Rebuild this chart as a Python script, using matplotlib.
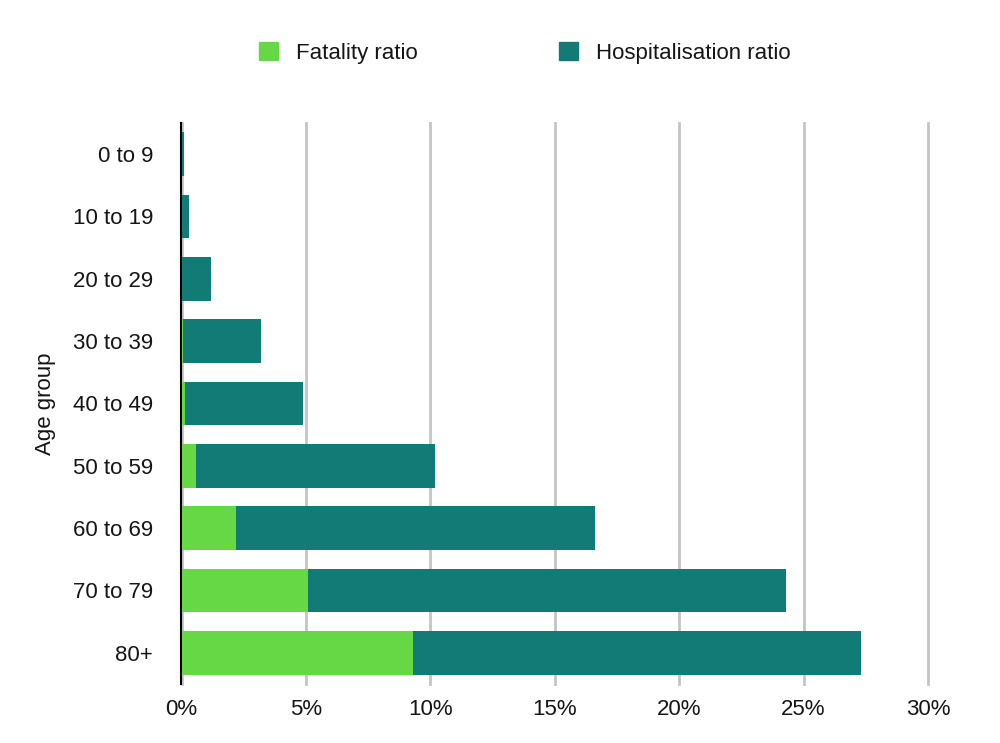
import matplotlib.pyplot as plt
from matplotlib.patches import Patch
from matplotlib.ticker import FuncFormatter

plt.rcParams['font.family'] = ['Liberation Sans', 'DejaVu Sans']

# Data (percent)
age_groups = ['0 to 9', '10 to 19', '20 to 29', '30 to 39', '40 to 49',
              '50 to 59', '60 to 69', '70 to 79', '80+']
hospitalisation = [0.1, 0.3, 1.2, 3.2, 4.9, 10.2, 16.6, 24.3, 27.3]
fatality = [0.002, 0.007, 0.03, 0.08, 0.15, 0.6, 2.2, 5.1, 9.3]

GREEN = '#66d846'
TEAL = '#127b75'
TEXT = '#151515'

fig = plt.figure(figsize=(10, 7.43), dpi=100)
ax = fig.add_axes([0.1815, 1 - 684 / 743, 0.7465, (684 - 123) / 743])

pos = list(range(len(age_groups)))
# hospitalisation drawn from zero, fatality overlaid on top
ax.barh(pos, hospitalisation, height=0.7, color=TEAL, zorder=6)
ax.barh(pos, fatality, height=0.7, color=GREEN, zorder=7)

ax.set_xlim(0, 30)
ax.set_ylim(len(age_groups) - 0.5, -0.5)
ax.set_xticks([0, 5, 10, 15, 20, 25, 30])
ax.xaxis.set_major_formatter(FuncFormatter(lambda v, p: f'{v:.0f}%'))
ax.set_yticks(pos)
ax.set_yticklabels(age_groups)
ax.tick_params(axis='both', length=0, labelsize=16, colors=TEXT)
ax.tick_params(axis='x', pad=11)
ax.tick_params(axis='y', pad=20)

ax.grid(axis='x', color='#c4c4c4', linewidth=2, zorder=0)
for gl in ax.get_xgridlines():
    gl.set_clip_on(False)
ax.set_axisbelow(True)
for side in ['top', 'right', 'bottom']:
    ax.spines[side].set_visible(False)
ax.spines['left'].set_color('black')
ax.spines['left'].set_linewidth(1.5)
ax.spines['left'].set_position(('outward', 0.6))
ax.spines['left'].set_zorder(5)

ax.set_ylabel('Age group', fontsize=16, labelpad=12, color=TEXT)

handles = [Patch(color=GREEN, label='Fatality ratio'),
           Patch(color=TEAL, label='Hospitalisation ratio')]
leg = fig.legend(handles=handles, loc='center', bbox_to_anchor=(0.5245, 1 - 53 / 743),
                 ncol=2, frameon=False, fontsize=16, handlelength=0.86,
                 handleheight=0.86, handletextpad=0.8, columnspacing=6.35)
for t in leg.get_texts():
    t.set_color(TEXT)

fig.savefig('out.png', dpi=100)
